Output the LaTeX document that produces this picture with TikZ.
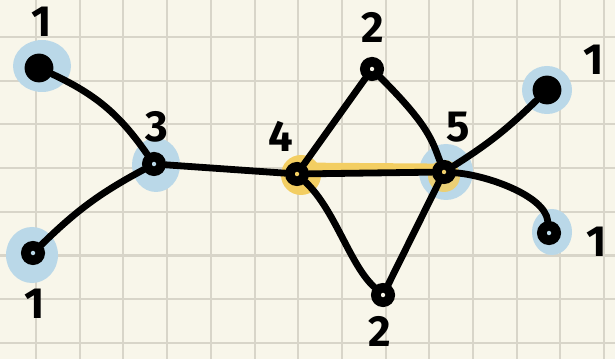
\documentclass[tikz,border=0pt]{standalone}
\usepackage{fontspec}
\setmainfont{Fira Sans}
\definecolor{paper}{RGB}{248,246,234}
\definecolor{gridtan}{RGB}{216,213,201}
\definecolor{hiblue}{RGB}{186,216,232}
\definecolor{hiyellow}{RGB}{243,206,98}

\tikzset{
  ring/.style={circle, draw=black, line width=0.24cm, minimum size=0.36cm, inner sep=0pt},
  blob/.style={circle, fill=black, minimum size=0.72cm, inner sep=0pt},
  edge/.style={black, line width=0.17cm, line cap=round},
  deg/.style={font=\fontsize{31}{31}\selectfont\bfseries, inner sep=0pt},
  gridline/.style={gridtan, line width=0.05cm},
}

\begin{document}
\begin{tikzpicture}[x=0.025cm, y=-0.025cm]
        % paper and grid
        \fill[paper] (0,0) rectangle (615,359);
        \useasboundingbox (0,0) rectangle (615,359);
        \foreach \i in {0,...,13}
          \draw[gridline] ({36+43.7*\i},0) -- ({36+43.7*\i},359);
        \foreach \j in {0,...,7}
          \draw[gridline] (0,{37+43.7*\j}) -- (615,{37+43.7*\j});
        % highlights
        \fill[hiblue] (42,66) ellipse [x radius=29, y radius=26];
        \fill[hiblue] (32,255) ellipse [x radius=26, y radius=28];
        \fill[hiblue] (156,165) ellipse [x radius=24, y radius=27];
        \fill[hiblue] (446,172) ellipse [x radius=27, y radius=28];
        \fill[hiblue] (547,90) ellipse [x radius=25, y radius=24];
        \fill[hiblue] (552,232) ellipse [x radius=20, y radius=23];
        \fill[hiyellow] (301,175) ellipse [x radius=20, y radius=20];
        \draw[hiyellow, line width=0.27cm, line cap=round] (305,168) -- (440,169);
        \fill[hiyellow, opacity=0.85] (444,176) ellipse [x radius=16, y radius=16];
        % vertices
        \node[blob] (one-tl) at (39,68) {};
        \node[ring] (one-bl) at (33,253) {};
        \node[ring] (three) at (154,164) {};
        \node[ring] (four) at (297,174) {};
        \node[ring] (two-t) at (372,69) {};
        \node[ring] (five) at (444,172) {};
        \node[ring] (two-b) at (383,295) {};
        \node[blob] (one-rt) at (547,90) {};
        \node[ring] (one-rl) at (549,233) {};
        % edges
        \draw[edge] (one-tl) to[bend left=15] (three);
        \draw[edge] (one-bl) to[bend left=8] (three);
        \draw[edge] (three) -- (four);
        \draw[edge] (four) -- (two-t);
        \draw[edge] (two-t) .. controls (428,125) and (432,140) .. (five);
        \draw[edge] (four) -- (five);
        \draw[edge] (four) .. controls (335,210) and (350,265) .. (two-b);
        \draw[edge] (two-b) -- (five);
        \draw[edge] (five) to[bend right=6] (one-rt);
        \draw[edge] (five) .. controls (485,175) and (545,195) .. (one-rl);
        % degree labels
        \node[deg] (lab-one-tl) at (42,22) {1};
        \node[deg] (lab-one-bl) at (35,304) {1};
        \node[deg] (lab-three) at (157,127) {3};
        \node[deg] (lab-four) at (281,136) {4};
        \node[deg] (lab-two-t) at (373,27) {2};
        \node[deg] (lab-five) at (458,127) {5};
        \node[deg] (lab-one-rt) at (594,60) {1};
        \node[deg] (lab-one-rl) at (597,242) {1};
        \node[deg] (lab-two-b) at (380,331) {2};
      \end{tikzpicture}
\end{document}
